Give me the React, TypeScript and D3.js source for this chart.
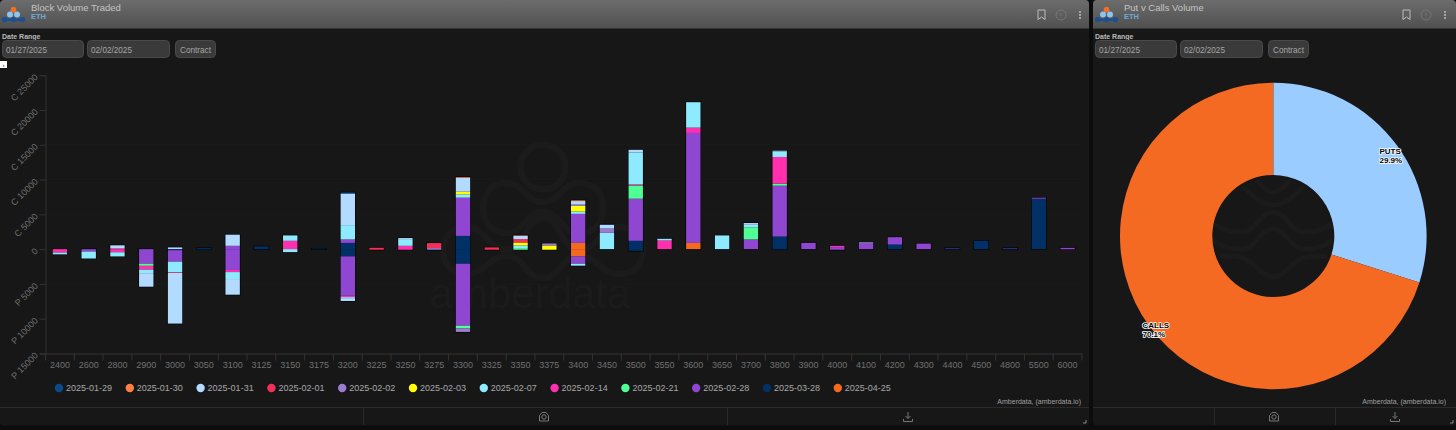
/**
 * Block Volume Traded + Put v Calls Volume
 * Two dashboard panels, stacked bars by strike and a donut
 */

import { useEffect, useRef } from 'react';
import * as d3 from 'd3';

const strikes = [
  '2400', '2600', '2800', '2900', '3000', '3050', '3100', '3125', '3150', '3175', '3200', '3225',
  '3250', '3275', '3300', '3325', '3350', '3375', '3400', '3450', '3500', '3550', '3600', '3650',
  '3700', '3800', '3900', '4000', '4100', '4200', '4300', '4400', '4500', '4800', '5500', '6000',
];

const expiries = [
  '2025-01-29', '2025-01-30', '2025-01-31', '2025-02-01', '2025-02-02', '2025-02-03',
  '2025-02-07', '2025-02-14', '2025-02-21', '2025-02-28', '2025-03-28', '2025-04-25',
];

const expiryColors = [
  '#0b4a8f', '#ff8040', '#b3dbff', '#f43058', '#9c7cd0', '#ffff00',
  '#8eeaff', '#ff2fae', '#4fff96', '#8f47d1', '#003066', '#f5691e',
];

// call volume per strike, one list per expiry
const callsJan29 = [
  0, 0, 0, 0, 0, 0, 0, 0, 0, 0, 150, 0,
  0, 0, 0, 0, 0, 0, 0, 50, 0, 0, 0, 0,
  0, 0, 0, 0, 0, 0, 0, 0, 0, 0, 0, 0,
];
const callsJan30 = [
  0, 0, 0, 0, 0, 0, 0, 0, 0, 0, 0, 0,
  0, 0, 100, 0, 50, 0, 100, 0, 0, 0, 0, 0,
  0, 0, 0, 0, 0, 0, 0, 0, 0, 0, 0, 0,
];
const callsJan31 = [
  0, 0, 450, 0, 250, 0, 1600, 0, 0, 0, 4550, 0,
  150, 0, 2000, 0, 480, 0, 500, 530, 380, 0, 0, 0,
  240, 100, 0, 0, 100, 0, 0, 0, 0, 0, 0, 0,
];
const callsFeb01 = [
  0, 0, 0, 0, 0, 0, 0, 0, 0, 0, 0, 200,
  0, 720, 0, 250, 480, 0, 0, 0, 0, 0, 0, 0,
  0, 0, 0, 0, 0, 0, 0, 0, 0, 0, 0, 0,
];
const callsFeb02 = [
  0, 0, 0, 0, 0, 0, 0, 0, 0, 0, 0, 0,
  0, 150, 0, 0, 0, 290, 200, 620, 0, 0, 0, 0,
  0, 0, 0, 0, 0, 0, 0, 0, 0, 0, 0, 0,
];
const callsFeb03 = [
  0, 0, 0, 0, 0, 0, 0, 0, 0, 0, 0, 0,
  0, 0, 380, 0, 430, 530, 800, 0, 0, 0, 0, 0,
  0, 0, 0, 0, 0, 0, 0, 0, 0, 0, 0, 0,
];
const callsFeb07 = [
  0, 0, 0, 0, 0, 0, 0, 0, 770, 0, 2050, 0,
  960, 0, 480, 0, 380, 0, 340, 2350, 4600, 240, 3650, 1970,
  380, 800, 0, 0, 0, 0, 0, 0, 0, 0, 0, 0,
];
const callsFeb14 = [
  0, 0, 100, 0, 0, 0, 0, 0, 1200, 0, 0, 0,
  480, 0, 0, 0, 0, 0, 0, 0, 150, 1250, 770, 0,
  0, 3840, 0, 190, 0, 0, 0, 0, 0, 0, 0, 0,
];
const callsFeb21 = [
  0, 0, 0, 0, 0, 0, 0, 0, 0, 0, 0, 0,
  0, 0, 0, 0, 150, 0, 0, 0, 1900, 0, 0, 0,
  1730, 290, 0, 0, 0, 0, 0, 0, 0, 0, 0, 0,
];
const callsFeb28 = [
  0, 0, 0, 0, 0, 0, 480, 0, 0, 0, 500, 0,
  0, 0, 5500, 0, 0, 0, 4170, 0, 6050, 0, 15800, 0,
  1400, 7300, 900, 290, 860, 1050, 800, 50, 0, 50, 150, 190,
];
const callsMar28 = [
  0, 0, 0, 0, 0, 150, 0, 400, 0, 80, 900, 0,
  0, 0, 1900, 0, 0, 0, 0, 0, 1200, 0, 0, 0,
  0, 1820, 0, 0, 0, 670, 0, 100, 1200, 100, 7250, 0,
];
const callsApr25 = [
  0, 0, 0, 0, 0, 0, 0, 0, 0, 0, 0, 0,
  0, 0, 0, 0, 0, 0, 900, 0, 0, 0, 900, 0,
  0, 0, 0, 0, 0, 0, 0, 0, 0, 0, 0, 0,
];

// put volume per strike, drawn below zero
const putsJan31 = [
  0, 0, 0, -1950, -7300, 0, -2250, 0, 0, 0, -300, 0,
  0, 0, 0, 0, 0, 0, 0, 0, 0, 0, 0, 0,
  0, 0, 0, 0, 0, 0, 0, 0, 0, 0, 0, 0,
];
const putsFeb01 = [
  0, 0, 0, 0, -100, 0, 0, 0, 0, 0, 0, -100,
  0, 0, 0, -100, 0, 0, 0, 0, 0, 0, 0, 0,
  0, 0, 0, 0, 0, 0, 0, 0, 0, 0, 0, 0,
];
const putsFeb02 = [
  0, 0, 0, 0, 0, 0, 0, 0, 0, 0, 0, 0,
  0, -100, -520, 0, 0, 0, 0, 0, 0, 0, 0, 0,
  0, 0, 0, 0, 0, 0, 0, 0, 0, 0, 0, 0,
];
const putsFeb03 = [
  0, 0, 0, 0, 0, 0, 0, 0, 0, 0, 0, 0,
  0, 0, 0, 0, 0, -100, 0, 0, 0, 0, 0, 0,
  0, 0, 0, 0, 0, 0, 0, 0, 0, 0, 0, 0,
];
const putsFeb07 = [
  -250, -1000, -600, -500, -1500, 0, -1000, 0, -430, 0, -250, 0,
  0, 0, 0, 0, 0, 0, -280, 0, 0, 0, 0, 0,
  0, 0, 0, 0, 0, 0, 0, 0, 0, 0, 0, 0,
];
const putsFeb14 = [
  -500, 0, -450, -550, 0, 0, -300, 0, 0, 0, -200, 0,
  -100, 0, 0, 0, 0, 0, 0, 0, 0, 0, 0, 0,
  0, 0, 0, 0, 0, 0, 0, 0, 0, 0, 0, 0,
];
const putsFeb21 = [
  0, 0, 0, -300, 0, 0, 0, 0, 0, 0, 0, 0,
  0, 0, -380, 0, -100, 0, 0, 0, 0, 0, 0, 0,
  0, 0, 0, 0, 0, 0, 0, 0, 0, 0, 0, 0,
];
const putsFeb28 = [
  0, -350, 0, -2100, -1650, 0, -3000, 0, 0, 0, -5650, 0,
  0, 0, -8900, 0, 0, 0, -1050, 0, 0, 0, 0, 0,
  0, 0, 0, -100, 0, 0, 0, 0, 0, 0, 0, -30,
];
const putsMar28 = [
  0, 0, 0, 0, -150, -50, 0, 0, 0, -30, -1050, 0,
  0, 0, -2100, 0, 0, 0, 0, 0, -240, 0, 0, 0,
  0, -50, 0, 0, 0, 0, 0, -50, 0, -50, 0, 0,
];
const putsApr25 = [
  0, 0, 0, 0, 0, 0, 0, 0, 0, 0, 0, 0,
  0, 0, 0, 0, 0, 0, -1050, 0, 0, 0, 0, 0,
  0, 0, 0, 0, 0, 0, 0, 0, 0, 0, 0, 0,
];
const putsNone = strikes.map(() => 0);

const callSeries = [
  callsJan29, callsJan30, callsJan31, callsFeb01, callsFeb02, callsFeb03,
  callsFeb07, callsFeb14, callsFeb21, callsFeb28, callsMar28, callsApr25,
];
const putSeries = [
  putsNone, putsNone, putsJan31, putsFeb01, putsFeb02, putsFeb03,
  putsFeb07, putsFeb14, putsFeb21, putsFeb28, putsMar28, putsApr25,
];

const yTicks = [25000, 20000, 15000, 10000, 5000, 0, -5000, -10000, -15000];

const donutLabels = ['PUTS', 'CALLS'];
const donutValues = [29.9, 70.1];
const donutColors = ['#9accff', '#f56a22'];

const FONT = '"Liberation Sans", Arial, sans-serif';
const PANEL_BG = '#171717';
const LINE = '#333';
const MARK = '#1b1b1b';

const x = d3.scaleBand<string>()
  .domain(strikes)
  .range([45.5, 1082])
  .paddingInner(0.5)
  .paddingOuter(0.25);

const y = d3.scaleLinear().domain([-15000, 25000]).range([353.5, 75.2]);

// series are stacked last expiry first, so the earliest sits on the outside
const stackKeys = expiries.map((_, i) => i).reverse();

function buildStack(source: number[][]) {
  const rows = strikes.map((_, s) => source.map((values) => values[s]));
  return d3.stack<number[], number>()
    .keys(stackKeys)
    .value((row, key) => row[key])(rows);
}

function BarPanel() {
  const axisRef = useRef<SVGGElement>(null);

  useEffect(() => {
    if (!axisRef.current) return;
    const g = d3.select(axisRef.current);
    g.selectAll('*').remove();

    const yAxis = d3.axisLeft(y)
      .tickValues(yTicks)
      .tickSize(6)
      .tickPadding(3)
      .tickFormat((d) => {
        const v = +d;
        if (v === 0) return '0';
        return `${v > 0 ? 'C' : 'P'} ${Math.abs(v)}`;
      });

    const yG = g.append('g').attr('transform', 'translate(45.5,0)').call(yAxis);
    yG.selectAll('path,line').attr('stroke', LINE);
    yG.selectAll('text')
      .attr('fill', '#6f6f6f')
      .attr('font-size', 9)
      .attr('font-family', FONT)
      .attr('transform', function () {
        const t = d3.select(this);
        return `rotate(-45 ${t.attr('x')} ${t.attr('y') || 0})`;
      });

    const xAxis = d3.axisBottom(x).tickSize(0).tickPadding(8.5);
    const xG = g.append('g').attr('transform', 'translate(0,353.5)').call(xAxis);
    xG.select('path').attr('stroke', LINE);
    xG.selectAll('text')
      .attr('fill', '#707070')
      .attr('font-size', 9)
      .attr('font-family', FONT);

    // category ticks sit on the band edges
    const edges = [...strikes.map((s) => (x(s) as number) - x.step() * 0.25), 1082];
    xG.selectAll('line.edge')
      .data(edges)
      .join('line')
      .attr('class', 'edge')
      .attr('x1', (d) => d)
      .attr('x2', (d) => d)
      .attr('y1', 0)
      .attr('y2', 7)
      .attr('stroke', LINE);
  }, []);

  const callStack = buildStack(callSeries);
  const putStack = buildStack(putSeries);

  return (
    <g>
      {/* gridlines */}
      {yTicks.map((t) => (
        <line key={t} x1={45.5} x2={1082} y1={y(t)} y2={y(t)} stroke="#1a1a1a" />
      ))}

      <Watermark />

      <g ref={axisRef} />

      {/* dark outline round each whole bar */}
      {strikes.map((s, i) => {
        const top = d3.sum(callSeries, (v) => v[i]);
        const bottom = d3.sum(putSeries, (v) => v[i]);
        return (
          <rect
            key={s}
            x={x(s)}
            width={x.bandwidth()}
            y={y(top)}
            height={y(bottom) - y(top)}
            fill="none"
            stroke="#000"
            strokeWidth={1.2}
          />
        );
      })}

      {[callStack, putStack].map((layers, n) => (
        <g key={n}>
          {layers.map((layer) => (
            <g key={layer.key} fill={expiryColors[layer.key]}>
              {layer.map((d, i) => {
                const a = y(d[0]);
                const b = y(d[1]);
                if (d[0] === d[1]) return null;
                return (
                  <rect
                    key={strikes[i]}
                    x={x(strikes[i])}
                    width={x.bandwidth()}
                    y={Math.min(a, b)}
                    height={Math.abs(a - b)}
                  />
                );
              })}
            </g>
          ))}
        </g>
      ))}

      {/* legend */}
      {expiries.map((e, i) => (
        <g key={e} transform={`translate(${59 + i * 70.8},388)`}>
          <circle r={4.2} fill={expiryColors[i]} />
          <text x={7} y={3.2} fontSize={9} fontFamily={FONT} fill="#a8a8a8">{e}</text>
        </g>
      ))}

      <text x={1081} y={404} textAnchor="end" fontSize={7} fontFamily={FONT} fill="#a0a0a0">
        Amberdata, (amberdata.io)
      </text>
    </g>
  );
}

function Watermark() {
  return (
    <g fill="none" stroke={MARK} strokeWidth={6.5}>
      <circle cx={543} cy={167} r={22.5} />
      <path d="M543 202C525 202 525 183 507 183C490 183 483 195 483 208C483 221 490 233 507 233C525 233 525 212 543 212C561 212 561 233 579 233C596 233 603 221 603 208C603 195 596 183 579 183C561 183 561 202 543 202Z" />
      <path d="M543 218C525 218 525 250 507 250C489 250 485 227 467 227C452 227 443 238 443 250C443 264 452 274 467 274C485 274 489 256 507 256C525 256 525 278 543 278C561 278 561 256 579 256C597 256 601 274 619 274C634 274 643 264 643 250C643 238 634 227 619 227C601 227 597 250 579 250C561 250 561 218 543 218Z" />
      <text
        x={530}
        y={308}
        textAnchor="middle"
        fontSize={42}
        fontFamily={FONT}
        fill={MARK}
        stroke="none"
      >
        amberdata
      </text>
    </g>
  );
}

function DonutPanel() {
  const cx = 1273.3;
  const cy = 236;
  const pie = d3.pie<number>().sort(null);
  const arc = d3.arc<d3.PieArcDatum<number>>().innerRadius(61).outerRadius(153.3);
  const slices = pie(donutValues);
  const labelPos: [number, number][] = [[1379.5, 153.5], [1142.5, 327.5]];

  return (
    <g>
      {slices.map((d, i) => (
        <path
          key={donutLabels[i]}
          d={arc(d) as string}
          transform={`translate(${cx},${cy})`}
          fill={donutColors[i]}
        />
      ))}

      {/* watermark waves showing through the hole */}
      <clipPath id="hole">
        <circle cx={cx} cy={cy} r={60.5} />
      </clipPath>
      <g clipPath="url(#hole)" fill="none" stroke={MARK} strokeWidth={5}>
        <path d="M1257 180C1263 188 1267 192 1273 192C1279 192 1283 188 1290 180" />
        <path d="M1243 187C1255 199 1263 205 1273 205C1283 205 1291 199 1303 187" />
        <path d="M1213 223C1225 232 1235 232 1243 232C1255 232 1260 212 1273 212C1286 212 1291 232 1303 232C1311 232 1321 232 1333 223" />
        <path d="M1213 240C1225 249 1235 249 1243 249C1255 249 1260 229 1273 229C1286 229 1291 249 1303 249C1311 249 1321 249 1333 240" />
        <path d="M1220 257C1228 255 1236 256 1243 258C1255 262 1262 277 1273 277C1284 277 1291 262 1303 258C1310 256 1318 255 1327 257" />
      </g>

      {slices.map((d, i) => (
        <text
          key={donutLabels[i]}
          x={labelPos[i][0]}
          y={labelPos[i][1]}
          fontSize={8}
          fontWeight="bold"
          fontFamily={FONT}
          fill="#000"
          stroke="#fff"
          strokeWidth={1.6}
          paintOrder="stroke"
        >
          <tspan x={labelPos[i][0]}>{donutLabels[i]}</tspan>
          <tspan x={labelPos[i][0]} dy={9.5}>{`${d.data}%`}</tspan>
        </text>
      ))}

      <text x={1446} y={404} textAnchor="end" fontSize={7} fontFamily={FONT} fill="#a0a0a0">
        Amberdata, (amberdata.io)
      </text>
    </g>
  );
}

interface ChromeProps {
  left: number;
  width: number;
  title: string;
  iconsAt: number;
  cameraAt: number;
  downloadAt: number;
  gapA: number;
  gapB: number;
}

// panel frame: header, date inputs, bottom toolbar
function PanelChrome({ left, width, title, iconsAt, cameraAt, downloadAt, gapA, gapB }: ChromeProps) {
  const inputs = [
    { at: 3, w: 81, text: '01/27/2025' },
    { at: 88, w: 82, text: '02/02/2025' },
  ];
  const right = left + width;
  return (
    <g>
      <rect x={left} y={0} width={width} height={425.5} rx={4} fill={PANEL_BG} />
      <path
        d={`M${left} 28.5V4a4 4 0 0 1 4-4H${right - 4}a4 4 0 0 1 4 4V28.5Z`}
        fill="url(#header)"
      />

      {/* logo */}
      <g transform={`translate(${left},0)`}>
        <circle cx={13.5} cy={9.7} r={2.9} fill="#f0702a" />
        <circle cx={10} cy={14.6} r={3} fill="#8ec5ef" />
        <circle cx={17} cy={14.6} r={3} fill="#8ec5ef" />
        <rect x={2} y={18.5} width={23} height={2.4} fill="#1d4f91" />
        <circle cx={4.5} cy={19.7} r={2.6} fill="#1d4f91" />
        <circle cx={13.5} cy={19.7} r={2.6} fill="#1d4f91" />
        <circle cx={22.5} cy={19.7} r={2.6} fill="#1d4f91" />
        <text x={31} y={11} fontSize={9.5} fontFamily={FONT} fill="#c4c4c4">
          {title}
        </text>
        <text x={31} y={19} fontSize={7.5} fontWeight="bold" fontFamily={FONT} fill="#6fa8dc">
          ETH
        </text>
        <text x={2} y={39} fontSize={7} fontWeight="bold" fontFamily={FONT} fill="#bbb">
          Date Range
        </text>
        {inputs.map((b) => (
          <g key={b.at}>
            <rect x={b.at - 0.5} y={40.5} width={b.w} height={17} rx={4} fill="#3a3a3a" stroke="#4a4a4a" />
            <text x={b.at + 3} y={52.5} fontSize={8.2} fontFamily={FONT} fill="#a5a5a5">{b.text}</text>
          </g>
        ))}
        <rect x={175.5} y={40.5} width={40} height={17} rx={4} fill="#3a3a3a" stroke="#4a4a4a" />
        <text x={195.5} y={52.5} textAnchor="middle" fontSize={8.2} fontFamily={FONT} fill="#a5a5a5">
          Contract
        </text>
      </g>

      {/* header icons */}
      <g transform={`translate(${iconsAt},15)`} fill="none" stroke="#bdbdbd" strokeWidth={1}>
        <path d="M-4 -5H3V4.5L-0.5 2L-4 4.5Z" />
        <circle cx={19} r={5} stroke="#777" />
        <path d="M19 -2V0.8M19 2V2.6" stroke="#777" />
        <g fill="#bdbdbd" stroke="none">
          <circle cx={38} cy={-3} r={1} />
          <circle cx={38} cy={0} r={1} />
          <circle cx={38} cy={3} r={1} />
        </g>
      </g>

      {/* toolbar */}
      <line x1={left} x2={right} y1={407.5} y2={407.5} stroke="#2a2a2a" />
      <line x1={gapA} x2={gapA} y1={408} y2={425} stroke="#2a2a2a" />
      <line x1={gapB} x2={gapB} y1={408} y2={425} stroke="#2a2a2a" />
      <g transform={`translate(${cameraAt},417)`} fill="none" stroke="#777">
        <path d="M-4.5 4V-1.5L-2 -4.5H2L4.5 -1.5V4Z" />
        <circle r={2.2} />
      </g>
      <g transform={`translate(${downloadAt},417)`} fill="none" stroke="#777">
        <path d="M0 -5V1.5M-2.5 -1L0 1.5L2.5 -1M-4.5 2V4.5H4.5V2" />
      </g>
      <path d={`M${right - 3} 420V423H${right - 6}`} fill="none" stroke="#888" />
    </g>
  );
}

export default function App() {
  return (
    <svg
      width={1456}
      height={430}
      style={{ position: 'absolute', left: 0, top: 0, display: 'block', background: '#0c0c0c' }}
    >
      <defs>
        <linearGradient id="header" x1="0" x2="0" y1="0" y2="1">
          <stop offset="0%" stopColor="#6c6c6c" />
          <stop offset="100%" stopColor="#505050" />
        </linearGradient>
      </defs>

      <PanelChrome
        left={0}
        width={1089}
        title="Block Volume Traded"
        iconsAt={1042}
        cameraAt={544}
        downloadAt={908}
        gapA={363.5}
        gapB={727.5}
      />
      <PanelChrome
        left={1093}
        width={363}
        title="Put v Calls Volume"
        iconsAt={1407}
        cameraAt={1274}
        downloadAt={1395}
        gapA={1214.5}
        gapB={1335.5}
      />

      {/* small chart-expand marker */}
      <rect x={0} y={61} width={7} height={7} fill="#fff" />
      <text x={3.5} y={66.8} textAnchor="middle" fontSize={6} fontFamily={FONT} fill="#222">›</text>

      <BarPanel />
      <DonutPanel />
    </svg>
  );
}
